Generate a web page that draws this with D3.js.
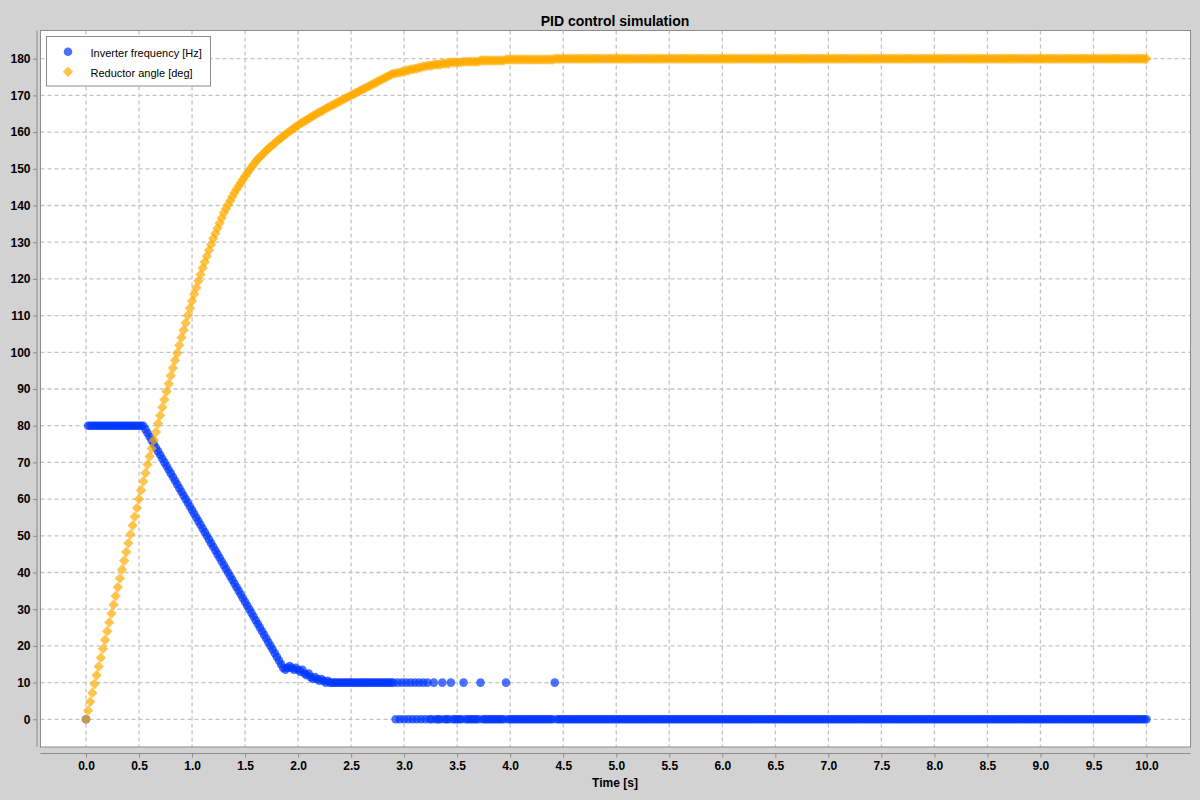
<!DOCTYPE html>
<html lang="en">

<head>
    <meta charset="UTF-8">
    <title>PID control simulation</title>
    <script src="https://d3js.org/d3.v7.min.js"></script>
    <style>
        body,
        html {
            margin: 0px;
            background: #d2d2d2;
        }

        svg text {
            font-family: "Liberation Sans", Arial, sans-serif;
        }
    </style>
</head>

<body>

    <div id="chart"></div>

    <script>

        // simulation is sampled every 0.02 s, 501 samples from 0 to 10 s
        const timeStep = 0.02

        // Inverter frequency [Hz], one value per sample (25 per row = 0.5 s)
        const frequency = [
            0, 80, 80, 80, 80, 80, 80, 80, 80, 80, 80, 80, 80, 80, 80, 80, 80, 80, 80, 80, 80, 80, 80, 80, 80,
            80, 80, 80, 79, 78, 77, 76, 75, 74, 73, 72, 71, 70, 69, 68, 67, 66, 65, 64, 63, 62, 61, 60, 59, 58,
            57, 56, 55, 54, 53, 52, 51, 50, 49, 48, 47, 46, 45, 44, 43, 42, 41, 40, 39, 38, 37, 36, 35, 34, 33,
            32, 31, 30, 29, 28, 27, 26, 25, 24, 23, 22, 21, 20, 19, 18, 17, 16, 15, 14, 13.5, 14, 14.5, 14, 13.5, 14,
            13.5, 13, 13.5, 12.5, 12, 12.5, 11.5, 11, 11.5, 11, 10.5, 11, 10.5, 10, 10.5, 10, 10, 10, 10, 10, 10, 10, 10, 10, 10,
            10, 10, 10, 10, 10, 10, 10, 10, 10, 10, 10, 10, 10, 10, 10, 10, 10, 10, 10, 10, 10, 0, 10, 0, 10,
            0, 10, 0, 10, 0, 10, 0, 10, 0, 10, 0, 10, 0, 0, 10, 0, 0, 0, 10, 0, 0, 0, 10, 0, 0,
            0, 0, 0, 10, 0, 0, 0, 0, 0, 0, 0, 10, 0, 0, 0, 0, 0, 0, 0, 0, 0, 0, 0, 10, 0,
            0, 0, 0, 0, 0, 0, 0, 0, 0, 0, 0, 0, 0, 0, 0, 0, 0, 0, 0, 0, 0, 10, 0, 0, 0,
            0, 0, 0, 0, 0, 0, 0, 0, 0, 0, 0, 0, 0, 0, 0, 0, 0, 0, 0, 0, 0, 0, 0, 0, 0,
            0, 0, 0, 0, 0, 0, 0, 0, 0, 0, 0, 0, 0, 0, 0, 0, 0, 0, 0, 0, 0, 0, 0, 0, 0,
            0, 0, 0, 0, 0, 0, 0, 0, 0, 0, 0, 0, 0, 0, 0, 0, 0, 0, 0, 0, 0, 0, 0, 0, 0,
            0, 0, 0, 0, 0, 0, 0, 0, 0, 0, 0, 0, 0, 0, 0, 0, 0, 0, 0, 0, 0, 0, 0, 0, 0,
            0, 0, 0, 0, 0, 0, 0, 0, 0, 0, 0, 0, 0, 0, 0, 0, 0, 0, 0, 0, 0, 0, 0, 0, 0,
            0, 0, 0, 0, 0, 0, 0, 0, 0, 0, 0, 0, 0, 0, 0, 0, 0, 0, 0, 0, 0, 0, 0, 0, 0,
            0, 0, 0, 0, 0, 0, 0, 0, 0, 0, 0, 0, 0, 0, 0, 0, 0, 0, 0, 0, 0, 0, 0, 0, 0,
            0, 0, 0, 0, 0, 0, 0, 0, 0, 0, 0, 0, 0, 0, 0, 0, 0, 0, 0, 0, 0, 0, 0, 0, 0,
            0, 0, 0, 0, 0, 0, 0, 0, 0, 0, 0, 0, 0, 0, 0, 0, 0, 0, 0, 0, 0, 0, 0, 0, 0,
            0, 0, 0, 0, 0, 0, 0, 0, 0, 0, 0, 0, 0, 0, 0, 0, 0, 0, 0, 0, 0, 0, 0, 0, 0,
            0, 0, 0, 0, 0, 0, 0, 0, 0, 0, 0, 0, 0, 0, 0, 0, 0, 0, 0, 0, 0, 0, 0, 0, 0,
            0
        ]

        // Reductor angle [deg], same samples
        const angle = [
            0, 2.4, 4.8, 7.2, 9.6, 12, 14.4, 16.8, 19.2, 21.6, 24, 26.4, 28.8, 31.2, 33.6, 36, 38.4, 40.8, 43.2, 45.6, 48, 50.4, 52.8, 55.2, 57.6,
            60, 62.4, 64.8, 67.1, 69.4, 71.6, 73.8, 76.1, 78.3, 80.6, 82.8, 85.0, 87.1, 89.3, 91.4, 93.6, 95.7, 97.8, 99.8, 101.9, 104.0, 106, 108, 110, 112,
            114, 115.8, 117.6, 119.4, 121.2, 123.0, 124.6, 126.2, 127.8, 129.4, 131.0, 132.4, 133.8, 135.2, 136.6, 138.0, 139.1, 140.2, 141.3, 142.4, 143.5, 144.4, 145.3, 146.2, 147.1,
            148.0, 148.8, 149.6, 150.4, 151.2, 152.0, 152.6, 153.2, 153.8, 154.4, 155.0, 155.5, 156.0, 156.5, 157.0, 157.5, 158.0, 158.4, 158.9, 159.3, 159.8, 160.2, 160.6, 161.1, 161.5,
            161.9, 162.3, 162.6, 163.0, 163.3, 163.7, 164.0, 164.4, 164.7, 165.1, 165.4, 165.7, 166.0, 166.4, 166.7, 167.0, 167.3, 167.6, 167.9, 168.2, 168.5, 168.8, 169.1, 169.4, 169.7,
            170.0, 170.3, 170.6, 170.9, 171.2, 171.5, 171.8, 172.1, 172.4, 172.7, 173.0, 173.3, 173.6, 173.9, 174.2, 174.5, 174.8, 175.1, 175.4, 175.7, 176.0, 176.0, 176.2, 176.2, 176.5,
            176.5, 176.8, 176.8, 177.1, 177.1, 177.3, 177.3, 177.6, 177.6, 177.9, 177.9, 178.1, 178.1, 178.1, 178.4, 178.4, 178.4, 178.4, 178.7, 178.7, 178.7, 178.7, 179.0, 179.0, 179.0,
            179.0, 179.0, 179.0, 179.2, 179.2, 179.2, 179.2, 179.2, 179.2, 179.2, 179.2, 179.5, 179.5, 179.5, 179.5, 179.5, 179.5, 179.5, 179.5, 179.5, 179.5, 179.5, 179.5, 179.8, 179.8,
            179.8, 179.8, 179.8, 179.8, 179.8, 179.8, 179.8, 179.8, 179.8, 179.8, 179.8, 179.8, 179.8, 179.8, 179.8, 179.8, 179.8, 179.8, 179.8, 179.8, 179.8, 180, 180, 180, 180,
            180, 180, 180, 180, 180, 180, 180, 180, 180, 180, 180, 180, 180, 180, 180, 180, 180, 180, 180, 180, 180, 180, 180, 180, 180,
            180, 180, 180, 180, 180, 180, 180, 180, 180, 180, 180, 180, 180, 180, 180, 180, 180, 180, 180, 180, 180, 180, 180, 180, 180,
            180, 180, 180, 180, 180, 180, 180, 180, 180, 180, 180, 180, 180, 180, 180, 180, 180, 180, 180, 180, 180, 180, 180, 180, 180,
            180, 180, 180, 180, 180, 180, 180, 180, 180, 180, 180, 180, 180, 180, 180, 180, 180, 180, 180, 180, 180, 180, 180, 180, 180,
            180, 180, 180, 180, 180, 180, 180, 180, 180, 180, 180, 180, 180, 180, 180, 180, 180, 180, 180, 180, 180, 180, 180, 180, 180,
            180, 180, 180, 180, 180, 180, 180, 180, 180, 180, 180, 180, 180, 180, 180, 180, 180, 180, 180, 180, 180, 180, 180, 180, 180,
            180, 180, 180, 180, 180, 180, 180, 180, 180, 180, 180, 180, 180, 180, 180, 180, 180, 180, 180, 180, 180, 180, 180, 180, 180,
            180, 180, 180, 180, 180, 180, 180, 180, 180, 180, 180, 180, 180, 180, 180, 180, 180, 180, 180, 180, 180, 180, 180, 180, 180,
            180, 180, 180, 180, 180, 180, 180, 180, 180, 180, 180, 180, 180, 180, 180, 180, 180, 180, 180, 180, 180, 180, 180, 180, 180,
            180, 180, 180, 180, 180, 180, 180, 180, 180, 180, 180, 180, 180, 180, 180, 180, 180, 180, 180, 180, 180, 180, 180, 180, 180,
            180, 180, 180, 180, 180, 180, 180, 180, 180, 180, 180, 180, 180, 180, 180, 180, 180, 180, 180, 180, 180, 180, 180, 180, 180,
            180
        ]

        const xTicks = [0, 0.5, 1, 1.5, 2, 2.5, 3, 3.5, 4, 4.5, 5, 5.5, 6, 6.5, 7, 7.5, 8, 8.5, 9, 9.5, 10]
        const yTicks = [0, 10, 20, 30, 40, 50, 60, 70, 80, 90, 100, 110, 120, 130, 140, 150, 160, 170, 180]
        const seriesNames = ["Inverter frequency [Hz]", "Reductor angle [deg]"]

        createChart("chart")

        function createChart(divId) {
            const width = 1200
            const height = 800
            const plot = { left: 40.5, top: 30.5, right: 1190.5, bottom: 747 }

            const blue = "rgba(0,55,255,0.706)"
            const orange = "rgba(255,172,0,0.706)"
            const gridColor = "#c4c4c4"
            const borderColor = "#8c8c8c"

            const svg = d3.select("#" + divId)
                .append("svg")
                .attr("width", width)
                .attr("height", height)

            svg.append("rect")
                .attr("width", width)
                .attr("height", height)
                .attr("fill", "#d2d2d2")

            const x = d3.scaleLinear().domain([0, 10]).range([86, 1146.5])
            const y = d3.scaleLinear().domain([0, 180]).range([719.3, 58.7])

            // plot background
            svg.append("rect")
                .attr("x", plot.left)
                .attr("y", plot.top)
                .attr("width", plot.right - plot.left)
                .attr("height", plot.bottom - plot.top)
                .attr("fill", "white")

            // dashed grid
            const grid = svg.append("g").attr("class", "grid")
                .attr("stroke", gridColor)
                .attr("stroke-width", 1.3)
                .attr("stroke-dasharray", "4,3")

            grid.selectAll(".vgrid")
                .data(xTicks)
                .join("line")
                .attr("class", "vgrid")
                .attr("x1", d => x(d))
                .attr("x2", d => x(d))
                .attr("y1", plot.top)
                .attr("y2", plot.bottom)

            grid.selectAll(".hgrid")
                .data(yTicks)
                .join("line")
                .attr("class", "hgrid")
                .attr("x1", plot.left)
                .attr("x2", plot.right)
                .attr("y1", d => y(d))
                .attr("y2", d => y(d))

            // plot border
            svg.append("rect")
                .attr("x", plot.left)
                .attr("y", plot.top)
                .attr("width", plot.right - plot.left)
                .attr("height", plot.bottom - plot.top)
                .attr("fill", "none")
                .attr("stroke", borderColor)

            // axes (lines drawn by hand so they run the full plot length)
            const yAxis = svg.append("g")
                .attr("transform", "translate(37,0)")
                .call(d3.axisLeft(y).tickValues(yTicks).tickSize(4).tickPadding(2.5))
            yAxis.select(".domain").remove()
            yAxis.append("line")
                .attr("x1", 0).attr("x2", 0)
                .attr("y1", plot.top).attr("y2", plot.bottom)
                .attr("stroke", borderColor)

            const xAxis = svg.append("g")
                .attr("transform", "translate(0,753.5)")
                .call(d3.axisBottom(x).tickValues(xTicks).tickFormat(d3.format(".1f")).tickSize(4).tickPadding(4))
            xAxis.select(".domain").remove()
            xAxis.append("line")
                .attr("x1", plot.left).attr("x2", plot.right)
                .attr("y1", 0).attr("y2", 0)
                .attr("stroke", borderColor)

            svg.selectAll(".tick line").attr("stroke", borderColor)
            svg.selectAll(".tick text")
                .attr("fill", "black")
                .style("font-size", "12px")
                .style("font-weight", "bold")
                .style("font-family", '"Liberation Sans", Arial, sans-serif')

            // titles
            svg.append("text")
                .attr("x", 615)
                .attr("y", 25.5)
                .attr("text-anchor", "middle")
                .style("font-size", "14px")
                .style("font-weight", "bold")
                .text("PID control simulation")

            svg.append("text")
                .attr("x", 615)
                .attr("y", 787)
                .attr("text-anchor", "middle")
                .style("font-size", "12px")
                .style("font-weight", "bold")
                .text("Time [s]")

            // series
            const diamond = "M0,-5.2L5.2,0L0,5.2L-5.2,0Z"

            svg.append("g")
                .selectAll("circle")
                .data(frequency)
                .join("circle")
                .attr("cx", (d, i) => x(i * timeStep))
                .attr("cy", d => y(d))
                .attr("r", 4.3)
                .attr("fill", blue)

            svg.append("g")
                .selectAll("path")
                .data(angle)
                .join("path")
                .attr("d", diamond)
                .attr("transform", (d, i) => `translate(${x(i * timeStep)},${y(d)})`)
                .attr("fill", orange)

            // legend
            const legend = svg.append("g").attr("class", "legend")
            legend.append("rect")
                .attr("x", 46.5)
                .attr("y", 36.5)
                .attr("width", 164)
                .attr("height", 49.5)
                .attr("fill", "white")
                .attr("stroke", borderColor)

            legend.append("circle")
                .attr("cx", 68)
                .attr("cy", 51.7)
                .attr("r", 4.3)
                .attr("fill", blue)

            legend.append("path")
                .attr("d", diamond)
                .attr("transform", "translate(68,71.7)")
                .attr("fill", orange)

            legend.selectAll(".legendText")
                .data(seriesNames)
                .join("text")
                .attr("class", "legendText")
                .attr("x", 90.5)
                .attr("y", (d, i) => 57.3 + i * 20)
                .style("font-size", "11px")
                .text(d => d)
        }
    </script>
</body>

</html>
